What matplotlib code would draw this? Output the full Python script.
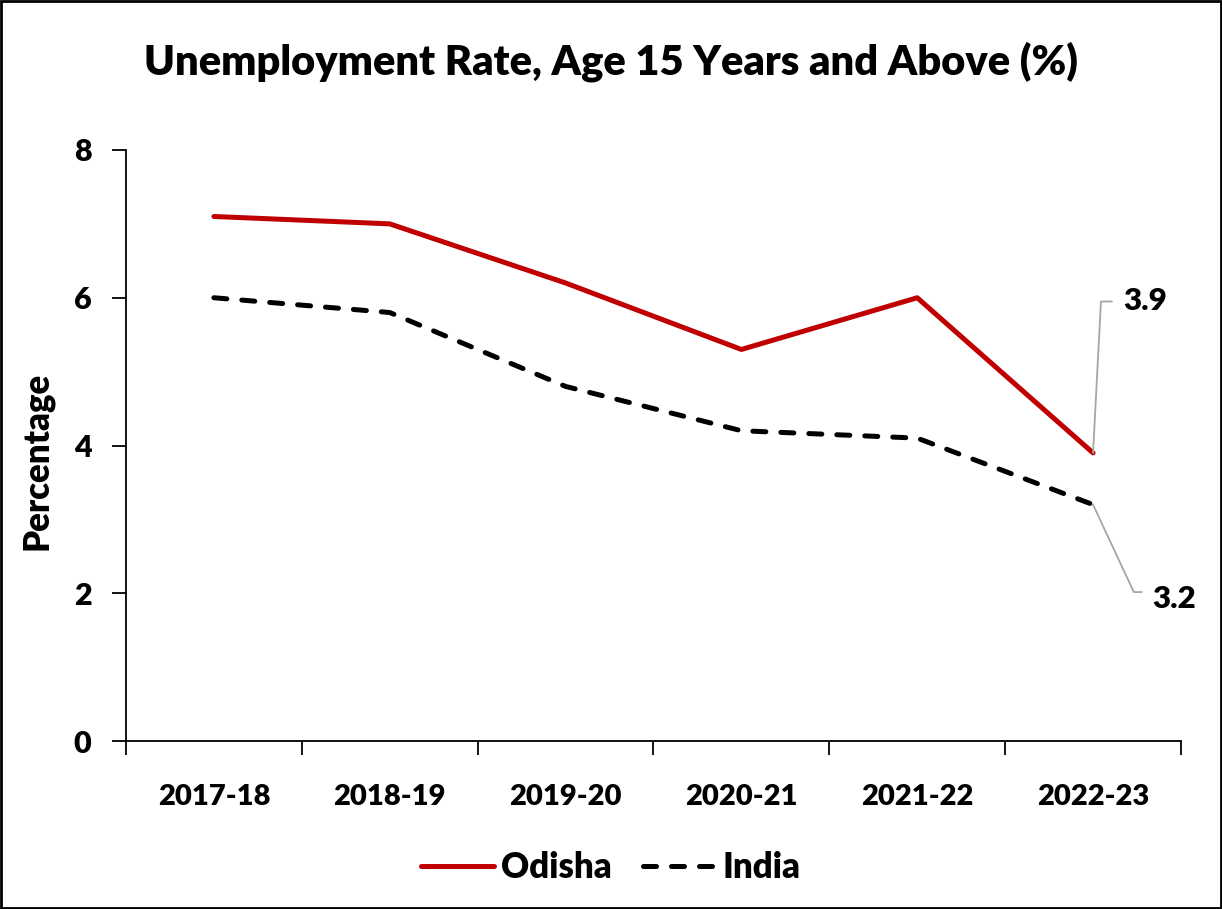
import matplotlib
matplotlib.use("Agg")
import matplotlib.pyplot as plt
from matplotlib.patches import Rectangle

# Unemployment rate, age 15 years and above (%)
years = ["2017-18", "2018-19", "2019-20", "2020-21", "2021-22", "2022-23"]
odisha = [7.1, 7.0, 6.2, 5.3, 6.0, 3.9]
india = [6.0, 5.8, 4.8, 4.2, 4.1, 3.2]
yticks = [0, 2, 4, 6, 8]

plt.rcParams["font.family"] = ["Lato", "DejaVu Sans"]
plt.rcParams["font.weight"] = "heavy"

fig = plt.figure(figsize=(12.22, 9.09), dpi=100)
ax = fig.add_axes([0.1031, 0.1848, 0.8633, 0.6502])

x = list(range(len(years)))
ax.plot(x, odisha, color="#C00000", lw=3.6, solid_capstyle="round",
        solid_joinstyle="round", label="Odisha")
ax.plot(x, india, color="black", lw=3.6, dashes=(2.6, 3.0),
        dash_capstyle="round", label="India")

ax.set_xlim(-0.5, len(years) - 0.5)
ax.set_ylim(0, 8)
ax.set_yticks(yticks)
# category boundaries carry the tick marks, labels sit between them
ax.set_xticks([i + 0.5 for i in range(-1, len(years))])
ax.set_xticklabels([])
ax.set_xticks(x, minor=True)
ax.set_xticklabels(years, minor=True)
ax.tick_params(axis="x", which="major", length=10, width=1.3, direction="out")
ax.tick_params(axis="x", which="minor", length=0, pad=31, labelsize=21)
ax.tick_params(axis="y", length=10, width=1.3, pad=15, labelsize=22)

for side in ("top", "right"):
    ax.spines[side].set_visible(False)
for side in ("left", "bottom"):
    ax.spines[side].set_linewidth(1.3)

ax.set_ylabel("Percentage", fontsize=25, fontweight="heavy")
ax.yaxis.set_label_coords(-0.069, 0.474)

fig.text(0.5, 1 - 62 / 909, "Unemployment Rate, Age 15 Years and Above (%)",
         ha="center", va="center", fontsize=30, fontweight="heavy")

# leader-line value labels on the last year
last = len(years) - 1
ax.annotate(f"{odisha[-1]}", xy=(last, odisha[-1]), xytext=(21.6, 109),
            textcoords="offset points", fontsize=22.5, fontweight="heavy",
            va="center", ha="left",
            arrowprops=dict(arrowstyle="-", color="#A6A6A6", lw=1.3,
                            relpos=(0, 0.5), shrinkA=6, shrinkB=0,
                            connectionstyle="angle,angleA=0,angleB=87,rad=0"))
ax.annotate(f"{india[-1]}", xy=(last, india[-1]), xytext=(43, -68),
            textcoords="offset points", fontsize=22.5, fontweight="heavy",
            va="center", ha="left",
            arrowprops=dict(arrowstyle="-", color="#A6A6A6", lw=1.3,
                            relpos=(0, 0.75), shrinkA=6, shrinkB=0,
                            connectionstyle="angle,angleA=0,angleB=-65,rad=0"))

fig.legend(loc="center", bbox_to_anchor=(0.5, 0.046), ncol=2, frameon=False,
           prop={"size": 25, "weight": "heavy"}, handlelength=2.1,
           handletextpad=0.2, columnspacing=0.9)

fig.patches.append(Rectangle((0.001, 0.001), 0.998, 0.998, transform=fig.transFigure,
                             fill=False, edgecolor="black", lw=2))

fig.savefig("out.png", dpi=100)
